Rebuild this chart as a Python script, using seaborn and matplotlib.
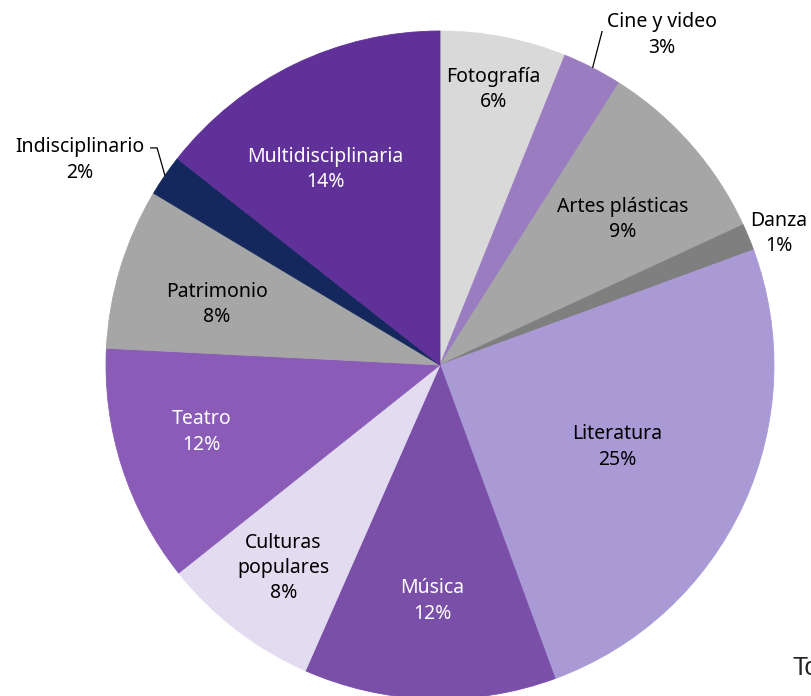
import matplotlib
matplotlib.use('Agg')
import matplotlib.pyplot as plt
import numpy as np
import seaborn as sns

# share of projects per discipline (%), clockwise from 12 o'clock
disciplines = [
    "Fotografía", "Cine y video", "Artes plásticas", "Danza", "Literatura",
    "Música", "Culturas\npopulares", "Teatro", "Patrimonio",
    "Indisciplinario", "Multidisciplinaria",
]
shares = [6.1, 2.9, 9.1, 1.3, 25.0, 12.2, 7.7, 11.5, 7.8, 2.0, 14.4]

colors = [
    "#D9D9D9", "#9A7CC1", "#A6A6A6", "#7F7F7F", "#A99AD6",
    "#7A4FA8", "#E3DBF0", "#8A5CB7", "#A6A6A6", "#14285E", "#603199",
]
text_colors = ["black", "black", "black", "black", "black",
               "white", "black", "white", "black", "black", "white"]
# label distance from centre (fraction of radius) and angle nudge (deg)
label_r = [0.84, 1.19, 0.70, 1.088, 0.584, 0.707, 0.768, 0.741, 0.692, 1.24, 0.678]
label_nudge = [0, -6.7, -2.8, -1.3, 0, 0, 0, -2.1, 1.8, 4.9, 4.5]
leaders = {"Cine y video": [(0.488, 1.009)],
           "Indisciplinario": [(-0.847, 0.650), (-0.868, 0.650)]}


def main():
    sns.set_theme(style='white')
    plt.rcParams['font.family'] = ['Noto Sans', 'DejaVu Sans']

    fig = plt.figure(figsize=(8.12, 6.96), dpi=100)
    ax = fig.add_axes([106 / 812, -3 / 696, 668 / 812, 668 / 696])

    wedges, _ = ax.pie(
        shares,
        colors=colors,
        startangle=90,
        counterclock=False,
        radius=1.0,
        wedgeprops=dict(linewidth=0.6),
    )
    for w, c in zip(wedges, colors):
        w.set_edgecolor(c)

    for w, name, share, r, nudge, tc in zip(wedges, disciplines, shares,
                                            label_r, label_nudge, text_colors):
        mid = np.deg2rad((w.theta1 + w.theta2) / 2 + nudge)
        x, y = r * np.cos(mid), r * np.sin(mid)
        ax.text(x, y, f"{name}\n{share:.0f}%", ha='center', va='center',
                fontsize=14, color=tc, linespacing=1.35)
        if name in leaders:
            m = np.deg2rad((w.theta1 + w.theta2) / 2)
            pts = [(np.cos(m), np.sin(m))] + leaders[name]
            xs, ys = zip(*pts)
            ax.plot(xs, ys, color='black', linewidth=0.9, solid_capstyle='butt')

    ax.set_xlim(-1, 1)
    ax.set_ylim(-1, 1)
    ax.set_aspect('equal')
    ax.axis('off')

    fig.text(793 / 812, 1 - 668 / 696, "Total", fontsize=18, ha='left',
             va='center', family=['Liberation Sans', 'DejaVu Sans'], color='#222222')

    fig.savefig("out.png", dpi=100)
    plt.close(fig)


if __name__ == '__main__':
    main()
